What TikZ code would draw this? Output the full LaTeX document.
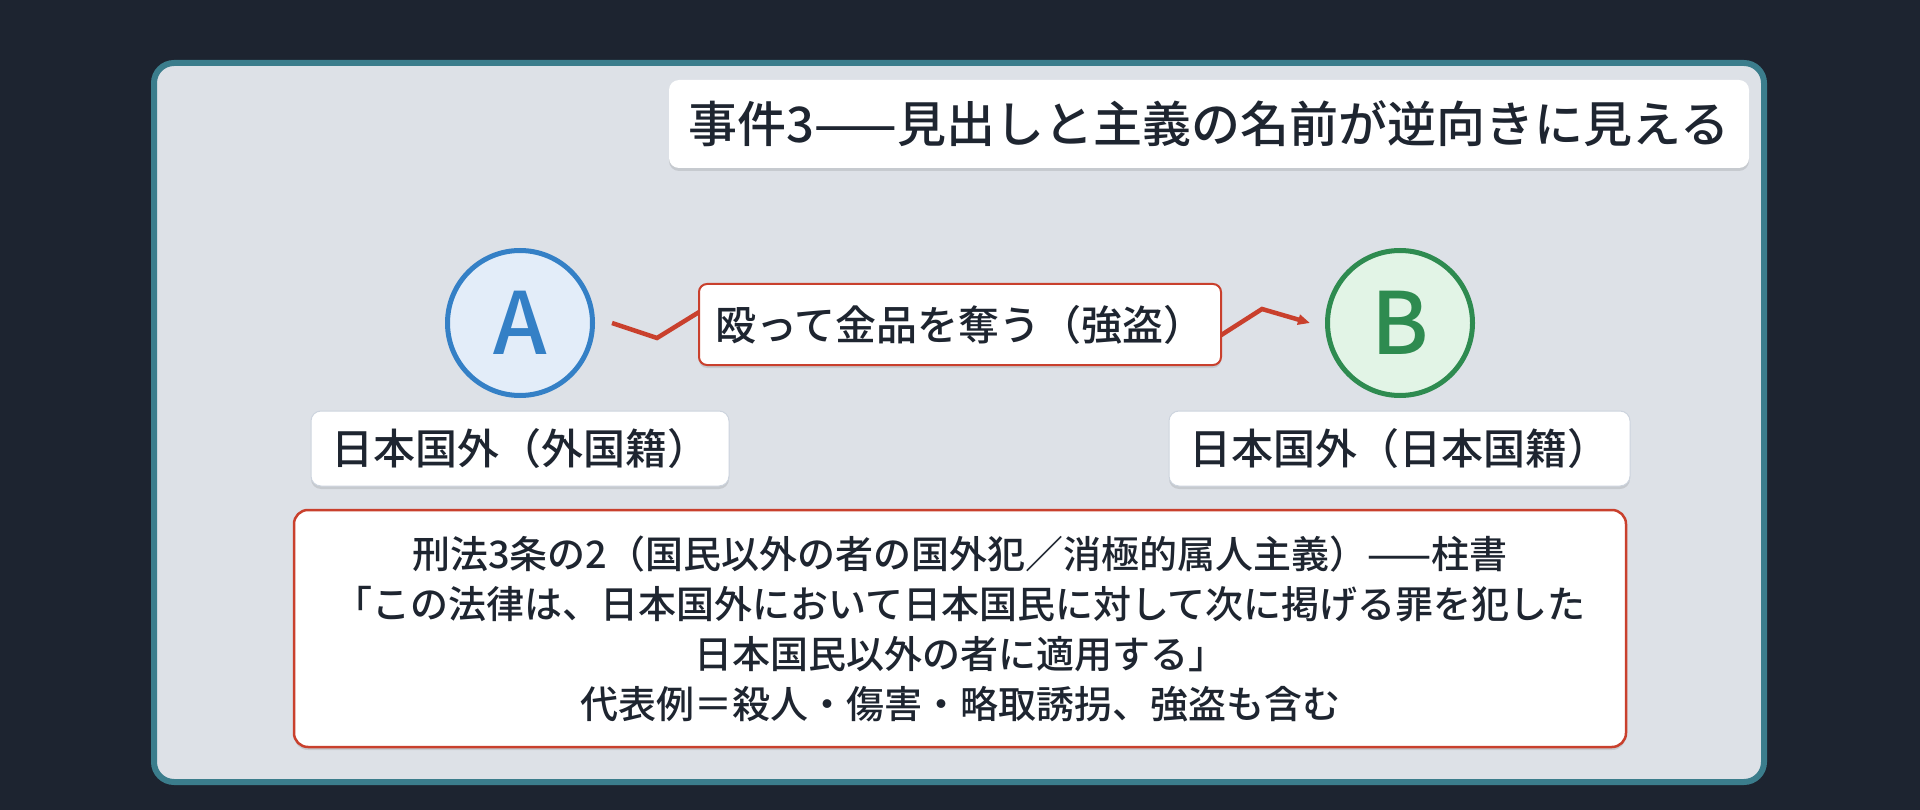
\documentclass[tikz,border=0pt]{standalone}
\usepackage{fontspec}
\setmainfont{Noto Sans CJK JP}[UprightFont=* Medium,BoldFont=* Bold]
\usetikzlibrary{arrows.meta,shadows}

\definecolor{pagebg}{RGB}{29,36,48}
\definecolor{panelbg}{RGB}{221,225,231}
\definecolor{panelline}{RGB}{59,125,140}
\definecolor{inkdark}{RGB}{30,37,48}
\definecolor{redline}{RGB}{201,64,45}
\definecolor{bluelin}{RGB}{52,128,198}
\definecolor{bluefill}{RGB}{227,237,249}
\definecolor{greenlin}{RGB}{46,139,80}
\definecolor{greenfill}{RGB}{226,244,230}
\definecolor{cardline}{RGB}{205,212,222}

\tikzset{every picture/.style={line width=0.75pt}}

\begin{document}
\begin{tikzpicture}[x=1pt,y=1pt,yscale=-1,xscale=1,
  softshadow/.style={drop shadow={shadow xshift=0pt,shadow yshift=-3pt,opacity=0.10,fill=black}},
  card/.style={draw=cardline,line width=1pt,fill=white,rounded corners=10pt,inner sep=0pt,softshadow,text=inkdark},
  person/.style={circle,line width=5pt,inner sep=0pt,minimum size=145pt,font=\fontsize{86}{86}\selectfont},
  zig/.style={draw=redline,line width=4.5pt,line join=miter,-{Triangle[length=12pt,width=10pt]}}]
\useasboundingbox (0,0) rectangle (1920,810);

%Shape: Background
\fill [pagebg] (0,0) rectangle (1920,810);
%Shape: Panel
\draw [draw=panelline,fill=panelbg,line width=6pt,rounded corners=20pt] (154,63) rectangle (1764,782);

% Title Node
\node (title) [card,draw=none,minimum width=1080pt,minimum height=88pt,font=\fontsize{49}{49}\selectfont] at (1209,124) {事件3——見出しと主義の名前が逆向きに見える};

% Circle Nodes
\node (A) [person,draw=bluelin,fill=bluefill,text=bluelin] at (520,323) {A};
\node (B) [person,draw=greenlin,fill=greenfill,text=greenlin] at (1400,323) {B};

% Connector coordinates
\coordinate (kinkA) at (657,338);
\coordinate (hideA) at (730,293);
\coordinate (hideB) at (1190,355);
\coordinate (kinkB) at (1262,309);
\draw [zig] ([xshift=17pt]A.east) -- (kinkA) -- (hideA) -- (hideB) -- (kinkB) -- ([xshift=-15pt]B.west);

% Text Node
\node (act) [card,draw=redline,line width=2pt,rounded corners=8pt,minimum width=522pt,minimum height=81pt,font=\fontsize{41}{41}\selectfont] at (960,324.5) {殴って金品を奪う（強盗）};

% Text Node
\node (placeA) [card,minimum width=418pt,minimum height=75pt,font=\fontsize{42}{42}\selectfont] at (520,448.5) {日本国外（外国籍）};
% Text Node
\node (placeB) [card,minimum width=461pt,minimum height=75pt,font=\fontsize{42}{42}\selectfont] at (1399.5,448.5) {日本国外（日本国籍）};

% Text Node
\node (rule) [card,draw=redline,line width=2.5pt,rounded corners=14pt,minimum width=1332pt,minimum height=237pt,align=center,font=\fontsize{38}{50}\selectfont] at (960,628.5) {刑法3条の2（国民以外の者の国外犯／消極的属人主義）——柱書\\「この法律は、日本国外において日本国民に対して次に掲げる罪を犯した\\日本国民以外の者に適用する」\\代表例＝殺人・傷害・略取誘拐、強盗も含む};

\end{tikzpicture}
\end{document}
